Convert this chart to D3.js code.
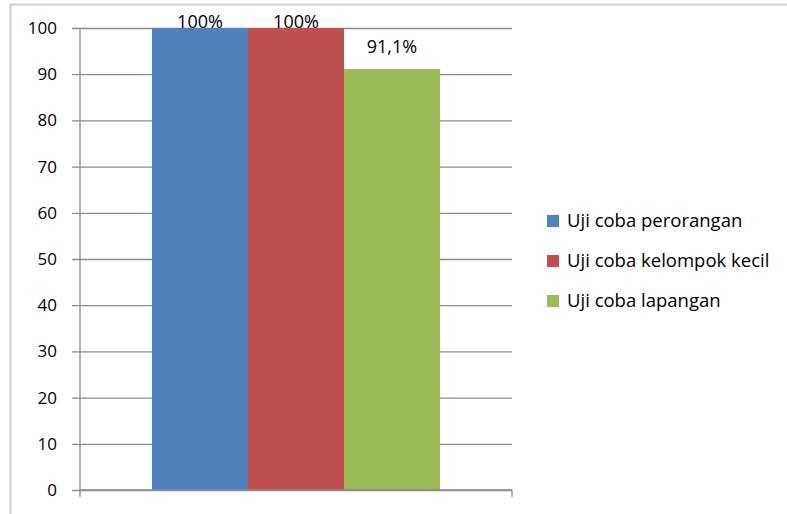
<!DOCTYPE html>
<html>
<head>
<meta charset="utf-8">
<script src="https://cdn.jsdelivr.net/npm/d3@7"></script>
<style>
  html, body { margin: 0; padding: 0; background: #fff; }
  svg { display: block; font-family: "Open Sans", sans-serif; }
</style>
</head>
<body>
<svg id="chart" width="787" height="514"></svg>
<script>
// Hasil uji coba (persentase)
const series = ["Uji coba perorangan", "Uji coba kelompok kecil", "Uji coba lapangan"];
const values = [100, 100, 91.1];
const valueLabels = ["100%", "100%", "91,1%"];
const colors = ["#4F81BD", "#C0504D", "#9BBB59"];
const yTicks = [0, 10, 20, 30, 40, 50, 60, 70, 80, 90, 100];

const svg = d3.select("#chart");
const plot = { left: 80, right: 512, top: 28, bottom: 490 };

// outer chart frame
svg.append("rect")
  .attr("x", 10.5).attr("y", 4.5)
  .attr("width", 800).attr("height", 540)
  .attr("fill", "none").attr("stroke", "#cfcfcf").attr("stroke-width", 2);

const y = d3.scaleLinear().domain([0, 100]).range([plot.bottom, plot.top]);
const group = d3.scaleBand().domain(["g"]).range([plot.left, plot.right]).paddingInner(0).paddingOuter(0.25);
const x = d3.scaleBand().domain(series).range([group("g"), group("g") + group.bandwidth()]).padding(0);

// horizontal gridlines + tick marks
const yAxis = d3.axisLeft(y).tickValues(yTicks).tickSize(-(plot.right - plot.left)).tickSizeOuter(0).tickPadding(23);
const ya = svg.append("g").attr("transform", `translate(${plot.left},0)`).call(yAxis);
ya.select(".domain").remove();
ya.selectAll(".tick line")
  .attr("x1", -8)
  .attr("stroke", "#8c8c8c").attr("stroke-width", 1.3);
ya.selectAll(".tick text")
  .attr("font-size", 17).attr("fill", "#000")
  .attr("font-family", "Open Sans, sans-serif");

// bars
svg.append("g").selectAll("rect")
  .data(series)
  .join("rect")
  .attr("x", d => x(d))
  .attr("width", x.bandwidth())
  .attr("y", (d, i) => y(values[i]))
  .attr("height", (d, i) => y(0) - y(values[i]))
  .attr("fill", (d, i) => colors[i]);

// axis lines
svg.append("line")
  .attr("x1", plot.left).attr("x2", plot.left)
  .attr("y1", plot.top).attr("y2", plot.bottom + 7)
  .attr("stroke", "#8c8c8c").attr("stroke-width", 1.3);
svg.append("line")
  .attr("x1", plot.left).attr("x2", plot.right)
  .attr("y1", plot.bottom).attr("y2", plot.bottom)
  .attr("stroke", "#8c8c8c").attr("stroke-width", 1.3);
svg.append("line")
  .attr("x1", plot.right).attr("x2", plot.right)
  .attr("y1", plot.bottom).attr("y2", plot.bottom + 7)
  .attr("stroke", "#8c8c8c").attr("stroke-width", 1.3);

// value labels
svg.append("g").selectAll("text")
  .data(series)
  .join("text")
  .attr("x", d => x(d) + x.bandwidth() / 2)
  .attr("y", (d, i) => Math.max(y(values[i]) - 16, plot.top))
  .attr("text-anchor", "middle")
  .attr("font-size", 18)
  .attr("fill", "#000")
  .text((d, i) => valueLabels[i]);

// legend
const legend = svg.append("g").attr("transform", "translate(547,0)");
const rowY = [221, 261, 301];
series.forEach((s, i) => {
  legend.append("rect")
    .attr("x", 0).attr("y", rowY[i] - 6)
    .attr("width", 12).attr("height", 12)
    .attr("fill", colors[i]);
  legend.append("text")
    .attr("x", 20).attr("y", rowY[i])
    .attr("dy", "0.35em")
    .attr("font-size", 18.5)
    .attr("fill", "#000")
    .text(s);
});
</script>
</body>
</html>
